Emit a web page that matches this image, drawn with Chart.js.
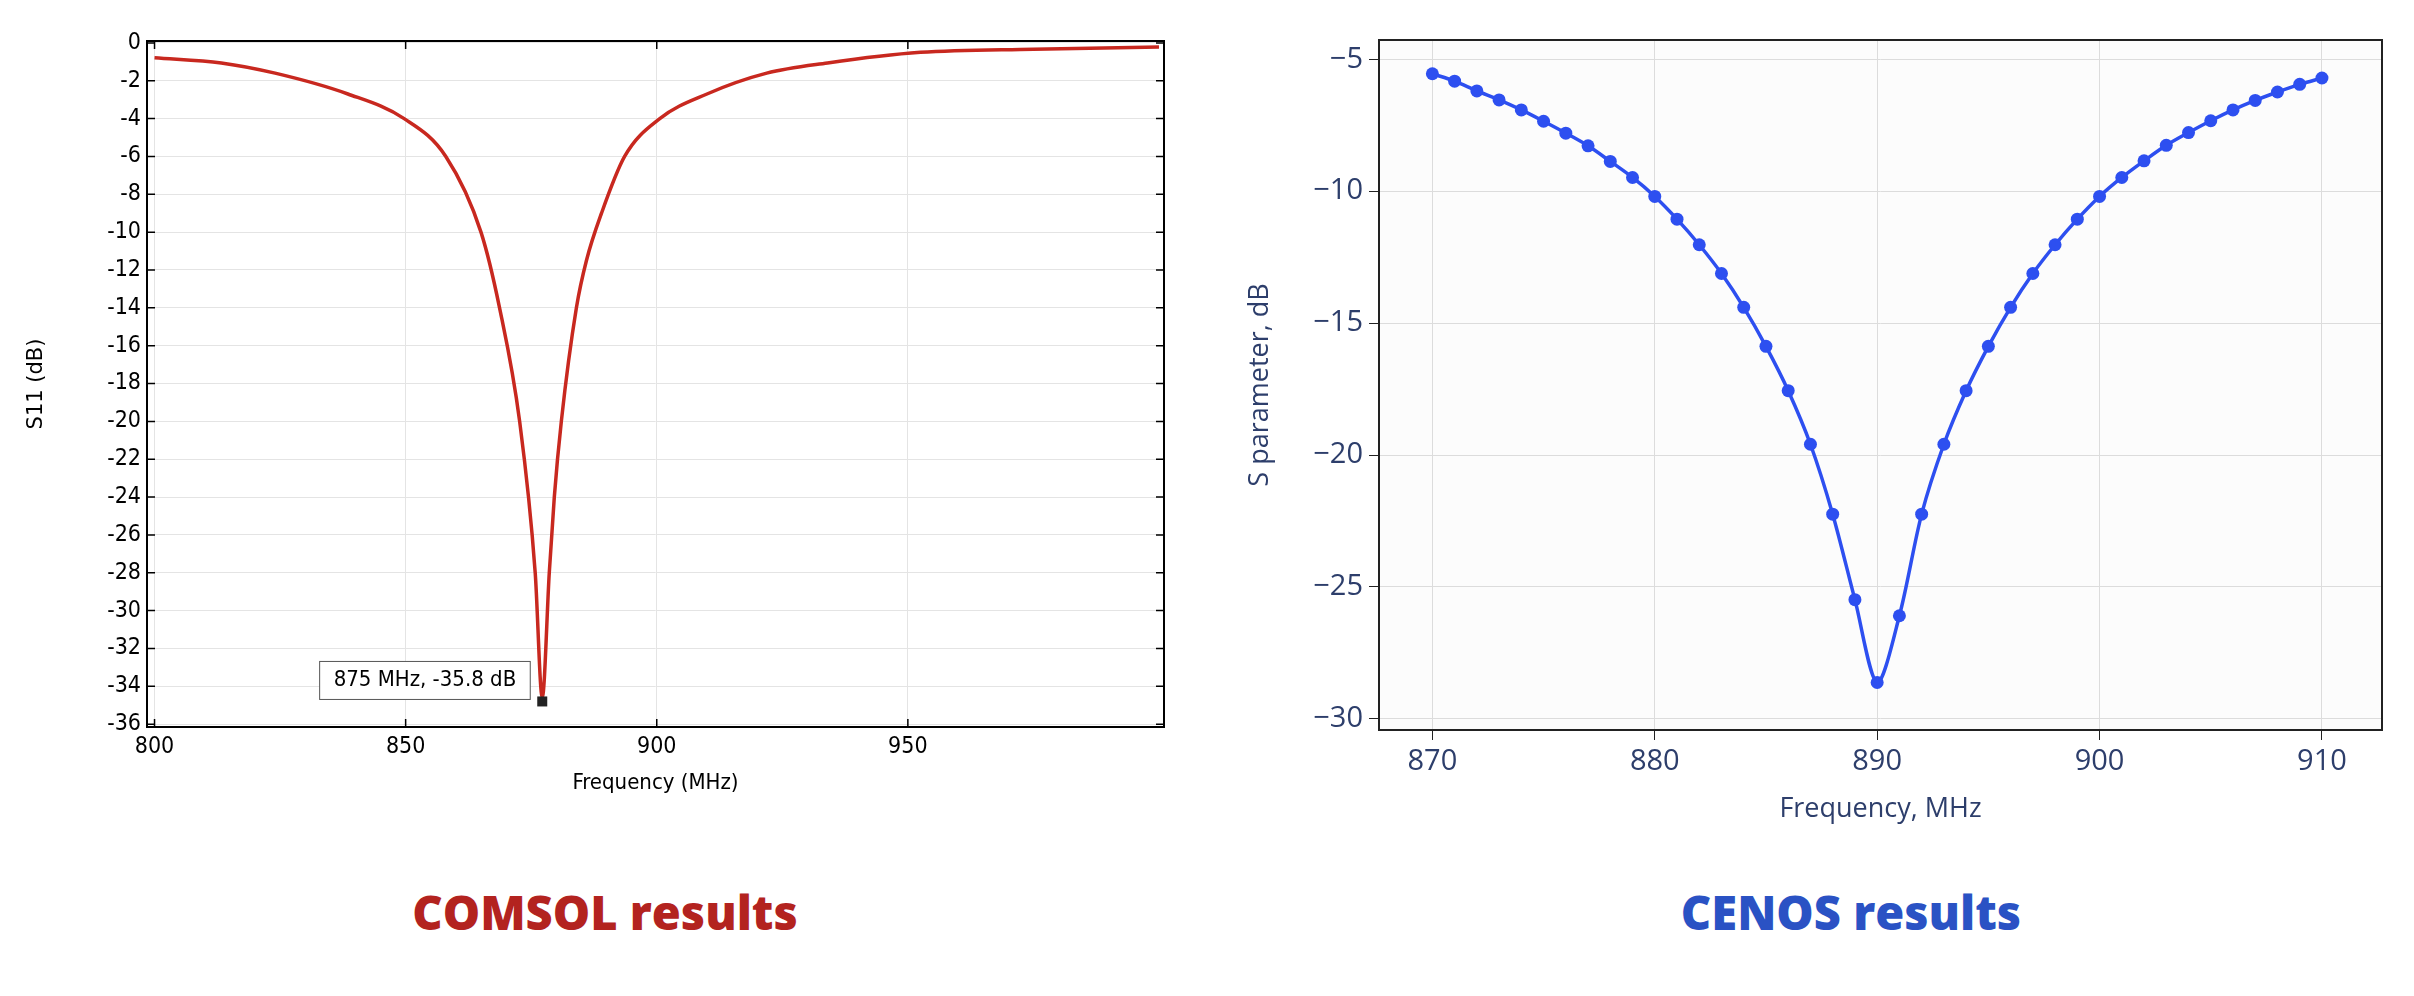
<!DOCTYPE html>
<html><head><meta charset="utf-8">
<script src="https://cdn.jsdelivr.net/npm/chart.js@4"></script>
<style>
body{margin:0;width:2414px;height:996px;background:#fff;position:relative;overflow:hidden;font-family:"DejaVu Sans Condensed","DejaVu Sans",sans-serif}
.c{position:absolute;top:0}
.t{position:absolute;top:880px;font-family:"Open Sans","Noto Sans",sans-serif;font-weight:800;font-size:47px;transform:translateX(-50%);white-space:nowrap}
</style></head><body>
<div class="c" style="left:0;width:1200px;height:800px"><canvas id="a"></canvas></div>
<div class="c" style="left:1240px;width:1174px;height:830px"><canvas id="b"></canvas></div>
<div class="t" style="left:605px;color:#b3231f">COMSOL results</div>
<div class="t" style="left:1851px;color:#2a52c4">CENOS results</div>
<script>
// COMSOL curve (MHz, dB)
const comsolFreq = [800,813.3,824,838.5,849.7,858,865,868.7,872.7,875.8,877.2,878.6,879.6,881,884,886,889,893.6,900.6,910,921.9,934,952.5,975,1000];
const comsolS11  = [-0.78,-1.06,-1.6,-2.7,-4.0,-6.0,-10,-14,-20,-28,-34.6,-28,-24,-20,-14,-11.5,-9,-6,-4,-2.7,-1.6,-1.06,-0.5,-0.33,-0.22];
const comsolMarker = {x:877.2, y:-34.8, label:"875 MHz, -35.8 dB"};
const comsolXTicks = [800,850,900,950];
const comsolYTicks = [0,-2,-4,-6,-8,-10,-12,-14,-16,-18,-20,-22,-24,-26,-28,-30,-32,-34,-36];
// CENOS points
const cenosFreq = [870,871,872,873,874,875,876,877,878,879,880,881,882,883,884,885,886,887,888,889,890,891,892,893,894,895,896,897,898,899,900,901,902,903,904,905,906,907,908,909,910];
const cenosS = [-5.55,-5.83,-6.2,-6.54,-6.92,-7.35,-7.8,-8.28,-8.87,-9.48,-10.2,-11.06,-12.03,-13.12,-14.4,-15.88,-17.56,-19.59,-22.24,-25.48,-28.62,-26.09,-22.24,-19.59,-17.56,-15.88,-14.4,-13.12,-12.03,-11.06,-10.2,-9.48,-8.85,-8.26,-7.78,-7.33,-6.92,-6.56,-6.24,-5.95,-5.71];
const cenosXTicks = [870,880,890,900,910];
const cenosYTicks = [-5,-10,-15,-20,-25,-30];

const fixTicks = arr => s => { s.ticks = arr.map(v=>({value:v})); };
const lf='"DejaVu Sans Condensed","DejaVu Sans"';

const comsolDeco = {
  id:'comsolDeco',
  afterDatasetsDraw(c){
    const {ctx, chartArea:a, scales:{x,y}} = c;
    ctx.save();
    ctx.strokeStyle='#000'; ctx.lineWidth=2;
    ctx.strokeRect(a.left,a.top,a.right-a.left,a.bottom-a.top);
    ctx.lineWidth=1.5;
    comsolXTicks.forEach(v=>{const px=x.getPixelForValue(v);ctx.beginPath();ctx.moveTo(px,a.bottom);ctx.lineTo(px,a.bottom-8);ctx.moveTo(px,a.top);ctx.lineTo(px,a.top+8);ctx.stroke();});
    comsolYTicks.forEach(v=>{const py=y.getPixelForValue(v);ctx.beginPath();ctx.moveTo(a.left,py);ctx.lineTo(a.left+8,py);ctx.moveTo(a.right,py);ctx.lineTo(a.right-8,py);ctx.stroke();});
    const mx=x.getPixelForValue(comsolMarker.x), my=y.getPixelForValue(comsolMarker.y);
    ctx.fillStyle='#222'; ctx.fillRect(mx-5,my-5,10,10);
    ctx.font='22px "DejaVu Sans Condensed","DejaVu Sans",sans-serif';
    const w=ctx.measureText(comsolMarker.label).width+28;
    const bx=mx-12-w, by=my-40;
    ctx.fillStyle='#fff'; ctx.fillRect(bx,by,w,38);
    ctx.strokeStyle='#555'; ctx.lineWidth=1; ctx.strokeRect(bx,by,w,38);
    ctx.fillStyle='#000'; ctx.textBaseline='middle'; ctx.fillText(comsolMarker.label,bx+14,by+19);
    ctx.restore();
  }
};

new Chart(document.getElementById('a'),{
  type:'line',
  data:{datasets:[{data:comsolFreq.map((f,i)=>({x:f,y:comsolS11[i]})),borderColor:'#c8281f',borderWidth:3.5,pointRadius:0,cubicInterpolationMode:'monotone'}]},
  options:{responsive:true,maintainAspectRatio:false,animation:false,
    layout:{padding:{top:41,right:36,left:20,bottom:0}},
    plugins:{legend:{display:false},tooltip:{enabled:false}},
    scales:{
      x:{type:'linear',min:798.5,max:1001,afterBuildTicks:fixTicks(comsolXTicks),afterFit:s=>{s.height=73},
        grid:{color:'#e4e4e4',drawTicks:false},border:{display:false},
        ticks:{color:'#000',font:{size:23,family:lf},padding:6},
        title:{display:true,text:'Frequency (MHz)',color:'#000',font:{size:22,family:lf},padding:{top:0}}},
      y:{type:'linear',min:-36.15,max:0.1,afterBuildTicks:fixTicks(comsolYTicks),afterFit:s=>{s.width=127},
        grid:{color:'#e4e4e4',drawTicks:false},border:{display:false},
        ticks:{color:'#000',font:{size:23,family:lf},padding:6},
        title:{display:true,text:'S11 (dB)',color:'#000',font:{size:21,family:'"DejaVu Sans"'},padding:{bottom:22}}}
    }},
  plugins:[comsolDeco]
});

const cenosFrame = {
  id:'cenosFrame',
  beforeDraw(c){const {ctx,chartArea:a}=c;ctx.save();ctx.fillStyle='#fcfcfc';ctx.fillRect(a.left,a.top,a.right-a.left,a.bottom-a.top);ctx.restore();},
  afterDatasetsDraw(c){const {ctx,chartArea:a}=c;ctx.save();ctx.strokeStyle='#222';ctx.lineWidth=2;ctx.strokeRect(a.left,a.top,a.right-a.left,a.bottom-a.top);ctx.restore();}
};
const cf='"Open Sans","Noto Sans",sans-serif';
new Chart(document.getElementById('b'),{
  type:'line',
  data:{datasets:[{data:cenosFreq.map((f,i)=>({x:f,y:cenosS[i]})),borderColor:'#2d4ff0',backgroundColor:'#2d4ff0',borderWidth:3.5,pointRadius:6.5,pointBorderWidth:0,tension:0.3}]},
  options:{responsive:true,maintainAspectRatio:false,animation:false,
    layout:{padding:{top:40,right:32,left:0,bottom:0}},
    plugins:{legend:{display:false},tooltip:{enabled:false}},
    scales:{
      x:{type:'linear',min:867.6,max:912.7,afterBuildTicks:fixTicks(cenosXTicks),afterFit:s=>{s.height=100},
        grid:{color:'#dcdcdc',tickLength:10,tickColor:'#222'},border:{display:false},
        ticks:{color:'#2d3e6b',font:{size:29,family:cf},padding:4},
        title:{display:true,text:'Frequency, MHz',color:'#2d3e6b',font:{size:27,family:cf},padding:{top:0}}},
      y:{type:'linear',min:-30.42,max:-4.27,afterBuildTicks:fixTicks(cenosYTicks),afterFit:s=>{s.width=139},
        grid:{color:'#dcdcdc',tickLength:10,tickColor:'#222'},border:{display:false},
        ticks:{color:'#2d3e6b',font:{size:29,family:cf},padding:6,callback:v=>String(v).replace('-','\u2212')},
        title:{display:true,text:'S parameter, dB',color:'#2d3e6b',font:{size:27,family:cf},padding:{bottom:6}}}
    }},
  plugins:[cenosFrame]
});
</script></body></html>
